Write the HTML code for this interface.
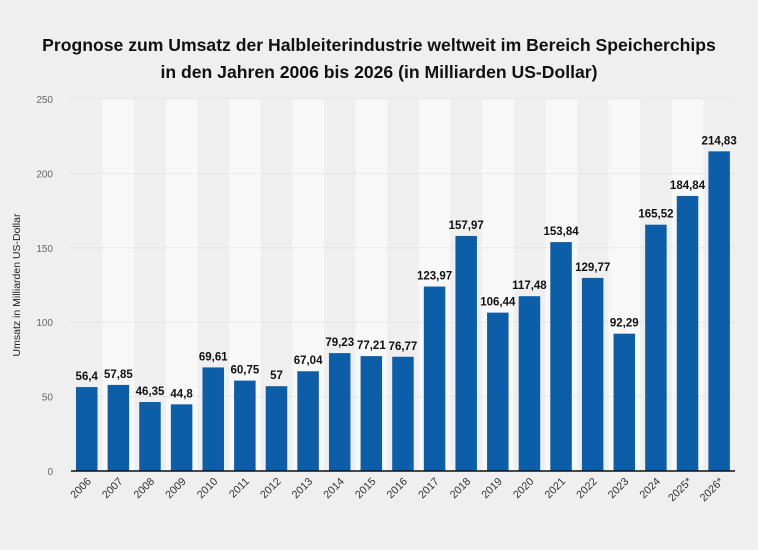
<!DOCTYPE html>
<html><head><meta charset="utf-8"><style>
body{margin:0;background:#efefef;width:758px;height:545px;overflow:hidden;font-family:"Liberation Sans",sans-serif}
</style></head><body>
<svg width="758" height="545">
<text x="379" y="51" text-anchor="middle" font-size="17.6" font-weight="bold" fill="#111">Prognose zum Umsatz der Halbleiterindustrie weltweit im Bereich Speicherchips</text>
<text x="379" y="78" text-anchor="middle" font-size="17.6" font-weight="bold" fill="#111">in den Jahren 2006 bis 2026 (in Milliarden US-Dollar)</text>
<text transform="translate(20,285) rotate(-90)" text-anchor="middle" font-size="10.5" fill="#222">Umsatz in Milliarden US-Dollar</text>
<g id="stripes"></g><g id="grid"></g><g id="bars"></g>
</svg>
<script>
const categories=["2006","2007","2008","2009","2010","2011","2012","2013","2014","2015","2016","2017","2018","2019","2020","2021","2022","2023","2024","2025*","2026*"];
const values=[56.4,57.85,46.35,44.8,69.61,60.75,57,67.04,79.23,77.21,76.77,123.97,157.97,106.44,117.48,153.84,129.77,92.29,165.52,184.84,214.83];
const labels=["56,4","57,85","46,35","44,8","69,61","60,75","57","67,04","79,23","77,21","76,77","123,97","157,97","106,44","117,48","153,84","129,77","92,29","165,52","184,84","214,83"];
const ticks=[0,50,100,150,200,250];
const NS="http://www.w3.org/2000/svg";
const x0=71,band=31.62,y0=471,yMax=250,yTop=99;
const y=v=>y0-(v/yMax)*(y0-yTop);
const xb=i=>x0+i*band;
function mk(t,a,p){const e=document.createElementNS(NS,t);for(const k in a)e.setAttribute(k,a[k]);p.appendChild(e);return e;}
const S=document.getElementById('stripes'),G=document.getElementById('grid'),B=document.getElementById('bars');
categories.forEach((c,i)=>{if(i%2==1){const r=mk('rect',{x:xb(i),y:yTop,width:band,height:y0-yTop,fill:'#f8f8f8'},S);

}});
ticks.forEach(t=>{if(t>0){const l=mk('line',{x1:x0,x2:x0+band*categories.length,y1:y(t),y2:y(t),stroke:'#dcdcdc','stroke-width':1,'stroke-dasharray':'1 1'},G);

}
const tx=mk('text',{x:53,y:y(t)+4,'text-anchor':'end','font-size':10,fill:'#666'},G);tx.textContent=t;

});
categories.forEach((c,i)=>{const bx=xb(i)+5,bw=21.5;
const r=mk('rect',{x:bx,y:y(values[i]),width:bw,height:y0-y(values[i]),fill:'#0d5ea9'},B);


const vl=mk('text',{x:bx+bw/2,y:y(values[i])-7,'text-anchor':'middle','font-size':11.5,'font-weight':'bold',fill:'#111'},B);vl.textContent=labels[i];


const cx=bx+bw/2+5,cy=y0+11;
const xl=mk('text',{x:cx,y:cy,'text-anchor':'end','font-size':10.8,fill:'#333',transform:`rotate(-45 ${cx} ${cy})`},B);xl.textContent=c;

});
const ax=mk('line',{x1:x0,x2:x0+band*categories.length,y1:y0,y2:y0,stroke:'#111','stroke-width':1.5},B);


</script>
</body></html>
